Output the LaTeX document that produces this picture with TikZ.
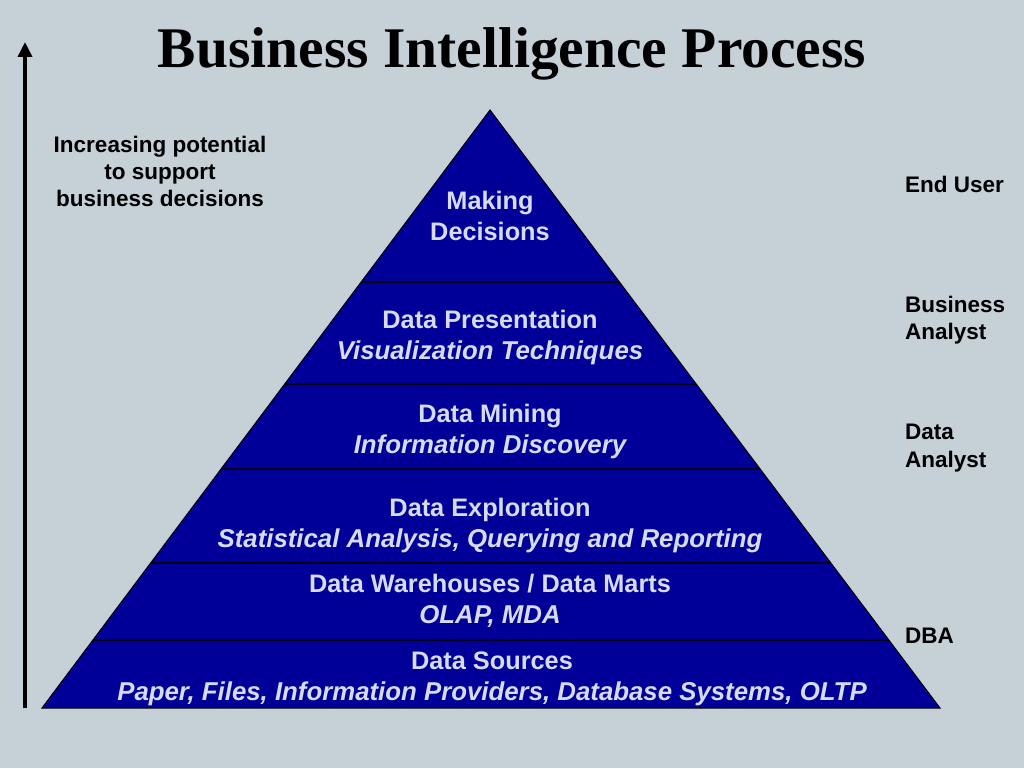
\documentclass[tikz,border=0pt]{standalone}
\usepackage{fontspec}
\setmainfont{Liberation Sans}
\newfontfamily\titlefont{Liberation Serif}
\usetikzlibrary{arrows.meta,calc}

\definecolor{slidebg}{RGB}{198,208,215}
\definecolor{pyrblue}{RGB}{0,0,153}
\definecolor{pyrtext}{RGB}{214,220,238}

\newcommand{\subline}[1]{{\fontsize{25.8}{31}\selectfont\itshape #1}}

\tikzset{
  layertext/.style={text=pyrtext,font=\bfseries\fontsize{25.3}{31}\selectfont,align=center,inner sep=0pt},
  roletext/.style={font=\bfseries\fontsize{22.5}{27.5}\selectfont,align=left,anchor=west,inner sep=0pt},
  layerline/.style={line width=1.5pt,draw=black!85!pyrblue},
}

\begin{document}
\begin{tikzpicture}[x=1pt,y=-1pt]
  % page, 1 unit = 1 pixel of the slide
  \fill[slidebg] (0,0) rectangle (1024,768);
  \useasboundingbox (0,0) rectangle (1024,768);

  \def\PyrTop{110}   % apex height
  \def\PyrBase{708}  % base height

  % title
  \node[font=\titlefont\bfseries\fontsize{57.5}{60}\selectfont] (title) at (512,54) {Business Intelligence Process};

  % rising arrow on the left
  \coordinate (arrowfoot) at (25,708);
  \coordinate (arrowtip) at (25,42);
  \draw[line width=3.5pt,-{Triangle[width=14pt,length=15pt]}] (arrowfoot) -- (arrowtip);
  \node[font=\bfseries\fontsize{22.5}{27}\selectfont,align=center,inner sep=0pt] (potential) at (160,171)
    {Increasing potential\\to support\\business decisions};

  % pyramid body
  \coordinate (apex) at (490,\PyrTop);
  \coordinate (bl) at (42,\PyrBase);
  \coordinate (br) at (940,\PyrBase);
  \fill[pyrblue] (apex) -- (bl) -- (br) -- cycle;

  % layer borders
  \foreach \y in {282,384,469,563,640} {%
    \pgfmathsetmacro{\t}{(\y-\PyrTop)/(\PyrBase-\PyrTop)}
    \draw[layerline] ($(apex)!\t!(bl)$) -- ($(apex)!\t!(br)$);
  }
  \draw[line width=1pt,line join=miter] (apex) -- (bl) -- (br) -- cycle;

  % layer texts
  \node[layertext] (decide) at (490,216) {Making\\Decisions};
  \node[layertext] (present) at (490,338) {Data Presentation\\\subline{Visualization Techniques}};
  \node[layertext] (mining) at (490,432) {Data Mining\\\subline{Information Discovery}};
  \node[layertext] (explore) at (490,526) {Data Exploration\\\subline{Statistical Analysis, Querying and Reporting}};
  \node[layertext] (warehouse) at (490,601) {Data Warehouses / Data Marts\\\subline{OLAP, MDA}};
  \node[layertext] (sources) at (492,679) {Data Sources\\\subline{Paper, Files, Information Providers, Database Systems, OLTP}};

  % roles on the right
  \node[roletext] (enduser) at (905,184) {End User};
  \node[roletext] (busanalyst) at (905,320) {Business\\Analyst};
  \node[roletext] (dataanalyst) at (905,448) {Data\\Analyst};
  \node[roletext] (dba) at (905,636) {DBA};
\end{tikzpicture}
\end{document}
